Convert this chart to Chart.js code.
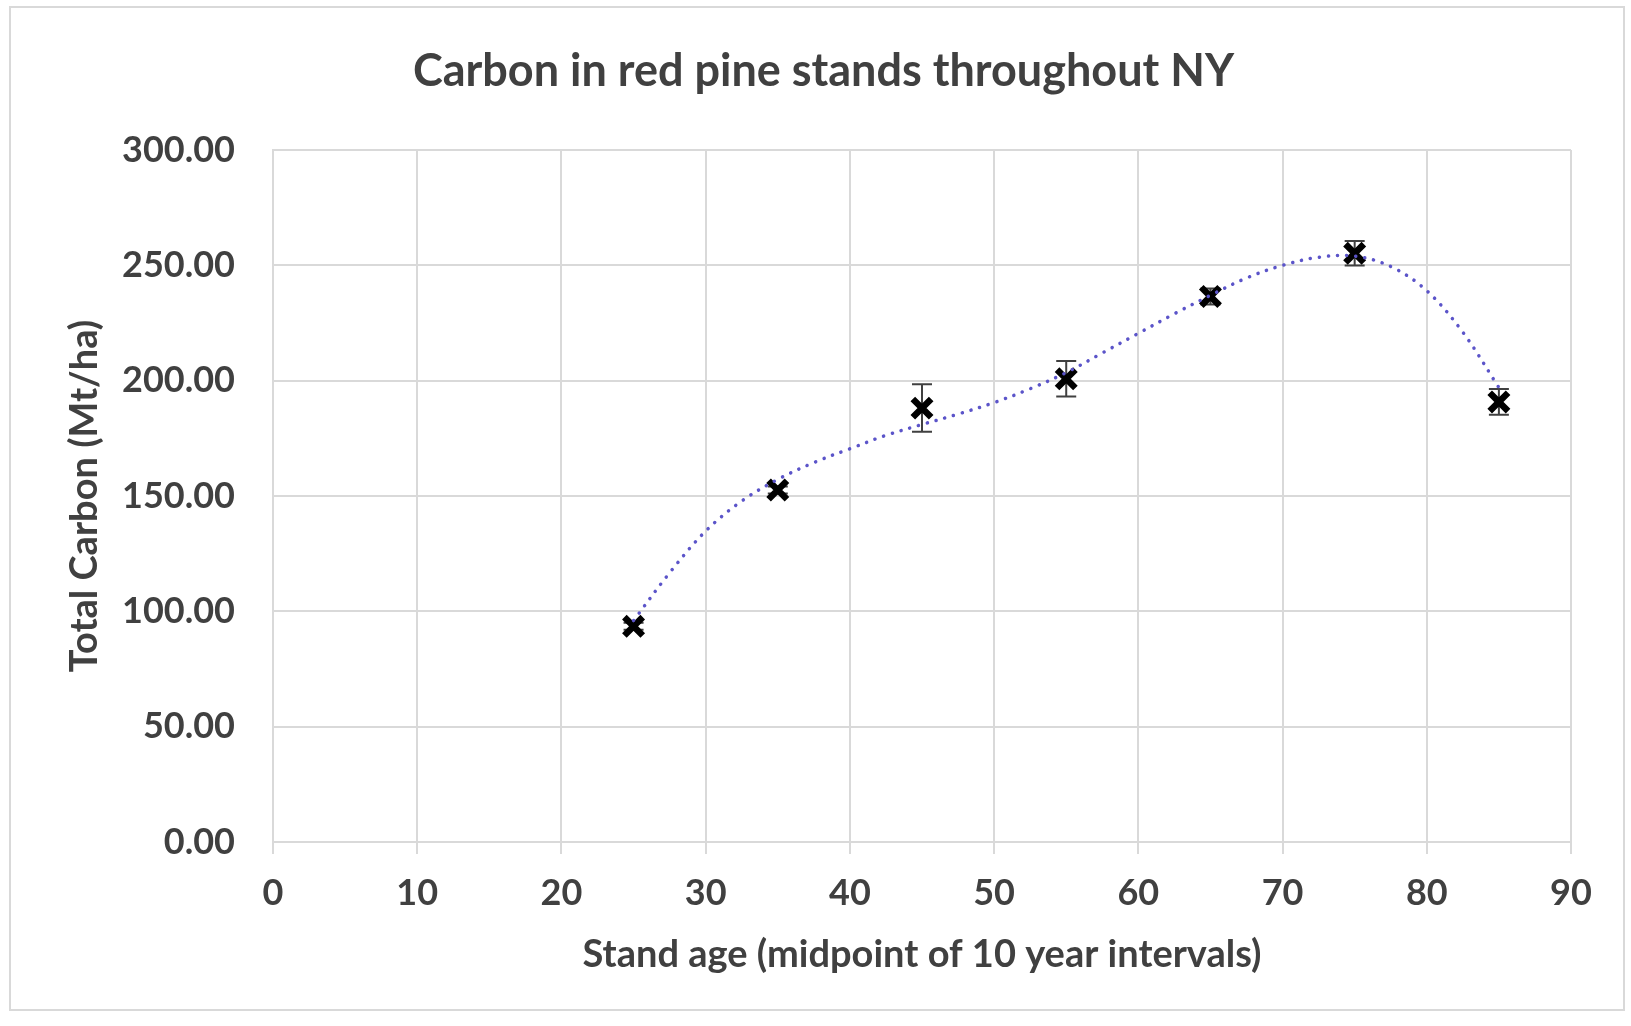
<!DOCTYPE html>
<html>
<head>
<meta charset="utf-8">
<script src="https://cdn.jsdelivr.net/npm/chart.js@4.4.1/dist/chart.umd.min.js"></script>
<style>
  html, body { margin: 0; padding: 0; background: #ffffff; }
  #wrap { width: 1631px; height: 1026px; position: relative; }
</style>
</head>
<body>
<div id="wrap"><canvas id="c" width="1631" height="1026"></canvas></div>
<script>
// ---- data ----
const standAge = [25, 35, 45, 55, 65, 75, 85];
const totalCarbon = [93.5, 152.6, 188.1, 200.8, 236.5, 255.2, 190.8];
const errorHalf = [1.5, 1.5, 10.3, 7.7, 3.5, 5.3, 5.6];

// dotted trendline
const trendAge = [25, 27.5, 30, 32.5, 35, 37.5, 40, 42.5, 45, 47.5, 50, 52.5, 55, 57.5, 60, 62.5, 65, 67.5, 70, 72.5, 75, 77.5, 80, 82.5, 85];
const trendCarbon = [96, 116.7, 134.8, 147.8, 157.2, 164.5, 170.5, 176.3, 181, 185.5, 190.5, 196.5, 203.5, 212, 220.5, 229, 237, 244.5, 250, 253.5, 254, 249.5, 239, 221, 197];

const xTicks = [0, 10, 20, 30, 40, 50, 60, 70, 80, 90];
const yTicks = [0, 50, 100, 150, 200, 250, 300];

const titleText = 'Carbon in red pine stands throughout NY';
const xTitle = 'Stand age (midpoint of 10 year intervals)';
const yTitle = 'Total Carbon (Mt/ha)';

const TEXT = '#404040';
const GRID = '#d9d9d9';
const FONT = 'Lato';

const pointsData = standAge.map((x, i) => ({ x: x, y: totalCarbon[i] }));
const trendData = trendAge.map((x, i) => ({ x: x, y: trendCarbon[i] }));

const frame = {
  id: 'frame',
  beforeDraw(chart) {
    const ctx = chart.ctx;
    ctx.save();
    ctx.fillStyle = '#ffffff';
    ctx.fillRect(0, 0, chart.width, chart.height);
    ctx.strokeStyle = '#d9d9d9';
    ctx.lineWidth = 2;
    ctx.strokeRect(10, 7, 1614, 1003);
    ctx.restore();
  }
};

const errorBars = {
  id: 'errorBars',
  beforeDatasetsDraw(chart) {
    const ctx = chart.ctx;
    const xs = chart.scales.x, ys = chart.scales.y;
    ctx.save();
    ctx.strokeStyle = '#404040';
    ctx.lineWidth = 2;
    standAge.forEach((a, i) => {
      const px = xs.getPixelForValue(a);
      const top = ys.getPixelForValue(totalCarbon[i] + errorHalf[i]);
      const bot = ys.getPixelForValue(totalCarbon[i] - errorHalf[i]);
      ctx.beginPath();
      ctx.moveTo(px, top); ctx.lineTo(px, bot);
      ctx.moveTo(px - 10, top); ctx.lineTo(px + 10, top);
      ctx.moveTo(px - 10, bot); ctx.lineTo(px + 10, bot);
      ctx.stroke();
    });
    ctx.restore();
  }
};

new Chart(document.getElementById('c'), {
  type: 'scatter',
  data: {
    datasets: [
      {
        label: 'trend',
        data: trendData,
        showLine: true,
        order: 0,
        borderColor: '#5b54c9',
        borderWidth: 3.5,
        borderDash: [0.1, 9],
        borderCapStyle: 'round',
        tension: 0.35,
        pointRadius: 0,
        fill: false
      },
      {
        label: 'Total carbon',
        data: pointsData,
        order: 1,
        pointStyle: 'crossRot',
        pointRadius: 13,
        pointBorderWidth: 6.5,
        borderColor: '#000000',
        backgroundColor: '#000000',
        showLine: false
      }
    ]
  },
  options: {
    responsive: false,
    animation: false,
    layout: { padding: { left: 16, right: 0, top: 0, bottom: 0 } },
    plugins: {
      legend: { display: false },
      tooltip: { enabled: false },
      title: {
        display: true,
        text: titleText,
        color: TEXT,
        font: { family: FONT, size: 45, weight: 'bold', lineHeight: 1.2 },
        padding: { top: 44, bottom: 52 }
      }
    },
    scales: {
      x: {
        type: 'linear',
        min: 0, max: 90,
        afterBuildTicks(scale) { scale.ticks = xTicks.map(v => ({ value: v })); },
        afterFit(scale) { scale.height = 184; },
        grid: { color: GRID, lineWidth: 2, drawTicks: true, tickLength: 12, tickColor: GRID },
        border: { color: GRID, width: 2 },
        ticks: { color: TEXT, padding: 18, maxRotation: 0, font: { family: FONT, size: 36, weight: 'bold' } },
        title: {
          display: true, text: xTitle, color: TEXT,
          font: { family: FONT, size: 38, weight: 'bold', lineHeight: 1.2 },
          padding: { top: 0, bottom: 48 }
        }
      },
      y: {
        type: 'linear',
        position: 'left',
        min: 0, max: 300,
        afterBuildTicks(scale) { scale.ticks = yTicks.map(v => ({ value: v })); },
        afterFit(scale) { scale.width = 257; },
        grid: { color: GRID, lineWidth: 2, drawTicks: false },
        border: { color: GRID, width: 2 },
        ticks: {
          color: TEXT, padding: 38,
          font: { family: FONT, size: 36, weight: 'bold' },
          callback: v => Number(v).toFixed(2)
        },
        title: {
          display: true, text: yTitle, color: TEXT,
          font: { family: FONT, size: 38, weight: 'bold', lineHeight: 1.2 },
          padding: { top: 46, bottom: 0 }
        }
      },
      yRight: {
        type: 'linear',
        position: 'right',
        display: true,
        afterFit(scale) { scale.width = 60; },
        grid: { display: false, drawTicks: false },
        border: { display: false },
        ticks: { display: false }
      }
    }
  },
  plugins: [frame, errorBars]
});
</script>
</body>
</html>
